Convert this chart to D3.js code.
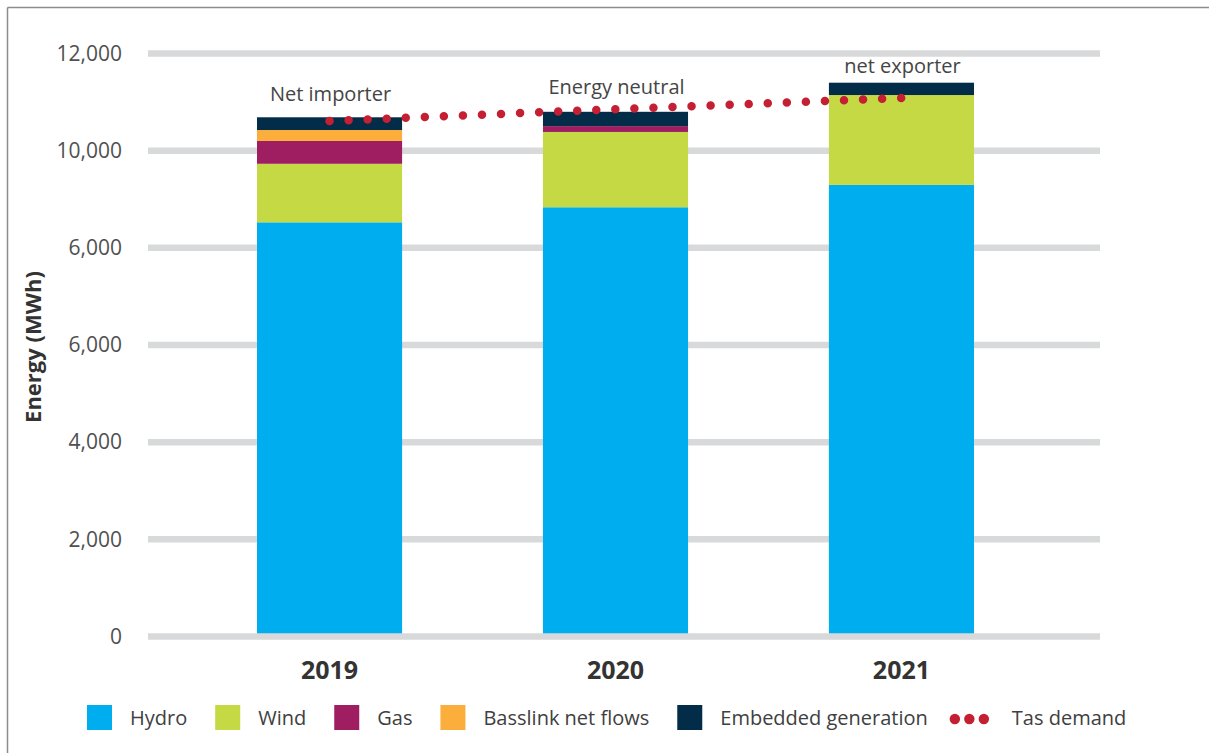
<!DOCTYPE html>
<html>
<head>
<meta charset="utf-8">
<script src="https://cdn.jsdelivr.net/npm/d3@7"></script>
<style>
  html, body { margin: 0; padding: 0; background: #ffffff; }
  svg { display: block; font-family: "Open Sans", Lato, sans-serif; }
</style>
</head>
<body>
<svg id="chart" width="1209" height="753"></svg>
<script>
// Tasmanian energy supply by source, with demand overlaid (MWh)
const years = ["2019", "2020", "2021"];
const hydro = [8525, 8835, 9295];
const wind = [1205, 1550, 1850];
const gas = [470, 120, 0];
const basslink = [225, 0, 0];
const embedded = [262, 295, 254];
const tasDemand = [10610, 10855, 11085];
const balanceLabels = ["Net importer", "Energy neutral", "net exporter"];

const yTickValues = [0, 2000, 4000, 6000, 8000, 10000, 12000];
const yTickLabels = ["0", "2,000", "4,000", "6,000", "6,000", "10,000", "12,000"];

const seriesNames = ["Hydro", "Wind", "Gas", "Basslink net flows", "Embedded generation"];
const seriesValues = [hydro, wind, gas, basslink, embedded];
const seriesColors = ["#00adee", "#c4d943", "#9f1e62", "#fbae3c", "#022c48"];
const demandColor = "#c51f33";

const FONT = "'Open Sans', Lato, sans-serif";
const svg = d3.select("#chart");

// frame lines along the top and left edge
svg.append("line").attr("x1", 7.5).attr("x2", 1209).attr("y1", 7.5).attr("y2", 7.5)
  .attr("stroke", "#8c8c8c").attr("stroke-width", 1.5);
svg.append("line").attr("x1", 7.5).attr("x2", 7.5).attr("y1", 7.5).attr("y2", 753)
  .attr("stroke", "#8c8c8c").attr("stroke-width", 1.5);

const plotLeft = 148, plotRight = 1100;

const y = d3.scaleLinear().domain([0, 12000]).range([636.5, 53.5]);
const x = d3.scaleBand().domain(years).range([257, 974]).paddingInner(0.4926).paddingOuter(0);

// table for stacking
const table = years.map((yr, i) => {
  const row = { year: yr };
  seriesNames.forEach((n, k) => { row[n] = seriesValues[k][i]; });
  return row;
});
const stacked = d3.stack().keys(seriesNames)(table);

// gridlines
svg.append("g").selectAll("line.grid")
  .data(yTickValues.filter(v => v > 0))
  .join("line")
  .attr("class", "grid")
  .attr("x1", plotLeft).attr("x2", plotRight)
  .attr("y1", d => y(d)).attr("y2", d => y(d))
  .attr("stroke", "#d8d9da").attr("stroke-width", 6.5);

// stacked bars
svg.append("g").selectAll("g.layer")
  .data(stacked)
  .join("g")
  .attr("class", "layer")
  .attr("fill", (d, k) => seriesColors[k])
  .selectAll("rect")
  .data(d => d)
  .join("rect")
  .attr("x", d => x(d.data.year))
  .attr("width", x.bandwidth())
  .attr("y", d => y(d[1]))
  .attr("height", d => Math.max(0, y(d[0]) - y(d[1])));

// baseline gridline drawn over the bar feet
svg.append("line")
  .attr("x1", plotLeft).attr("x2", plotRight)
  .attr("y1", y(0)).attr("y2", y(0))
  .attr("stroke", "#d8d9da").attr("stroke-width", 6.5);

// y axis labels
const yAxis = d3.axisLeft(y)
  .tickValues(yTickValues)
  .tickFormat((d, i) => yTickLabels[i])
  .tickSize(0)
  .tickPadding(26);
const gy = svg.append("g").attr("transform", `translate(${plotLeft},0)`).call(yAxis);
gy.select(".domain").remove();
gy.selectAll("text")
  .attr("font-family", FONT)
  .attr("font-size", 21)
  .attr("fill", "#505050");

// x axis labels
const xAxis = d3.axisBottom(x).tickSize(0).tickPadding(0);
const gx = svg.append("g").attr("transform", `translate(0,${y(0)})`).call(xAxis);
gx.select(".domain").remove();
gx.selectAll("text")
  .attr("font-family", FONT)
  .attr("font-size", 25)
  .attr("font-weight", "bold")
  .attr("fill", "#333333")
  .attr("dy", null)
  .attr("y", 42.5);

// y axis title
svg.append("text")
  .attr("transform", "translate(41,347) rotate(-90)")
  .attr("text-anchor", "middle")
  .attr("font-size", 22)
  .attr("font-weight", "bold")
  .attr("fill", "#333333")
  .text("Energy (MWh)");

// supply balance annotations above each bar
const totals = years.map((yr, i) => d3.sum(seriesValues, s => s[i]));
const annotationGap = [16, 18, 9.5];
svg.append("g").selectAll("text")
  .data(balanceLabels)
  .join("text")
  .attr("x", (d, i) => x(years[i]) + x.bandwidth() / 2 + 1)
  .attr("y", (d, i) => y(totals[i]) - annotationGap[i])
  .attr("text-anchor", "middle")
  .attr("font-size", 20)
  .attr("fill", "#454545")
  .text(d => d);

// Tas demand dotted line
const demandLine = d3.line()
  .x((d, i) => x(years[i]) + x.bandwidth() / 2)
  .y(d => y(d));
const demandPath = svg.append("path")
  .datum(tasDemand)
  .attr("d", demandLine)
  .attr("fill", "none")
  .attr("stroke", demandColor)
  .attr("stroke-width", 8.5)
  .attr("stroke-linecap", "round");
const pathLen = demandPath.node().getTotalLength();
const dotStep = pathLen / Math.round(pathLen / 19.3) - 0.01;
demandPath.attr("stroke-dasharray", `0 ${dotStep}`);

// legend
const legend = svg.append("g").attr("transform", "translate(87,718)");
let cursor = 0;
seriesNames.forEach((name, k) => {
  const item = legend.append("g").attr("transform", `translate(${cursor},0)`);
  item.append("rect").attr("x", 0).attr("y", -13).attr("width", 25).attr("height", 25)
    .attr("fill", seriesColors[k]);
  const t = item.append("text").attr("x", 43).attr("y", 7)
    .attr("font-size", 20).attr("fill", "#404040").text(name);
  cursor += 43 + t.node().getComputedTextLength() + 28;
});
const demandItem = legend.append("g").attr("transform", `translate(${cursor - 7},0)`);
demandItem.selectAll("circle")
  .data([0, 1, 2])
  .join("circle")
  .attr("cx", d => 6 + d * 14.5)
  .attr("cy", 1)
  .attr("r", 5.2)
  .attr("fill", demandColor);
demandItem.append("text").attr("x", 63).attr("y", 7)
  .attr("font-size", 20).attr("fill", "#404040").text("Tas demand");
</script>
</body>
</html>
